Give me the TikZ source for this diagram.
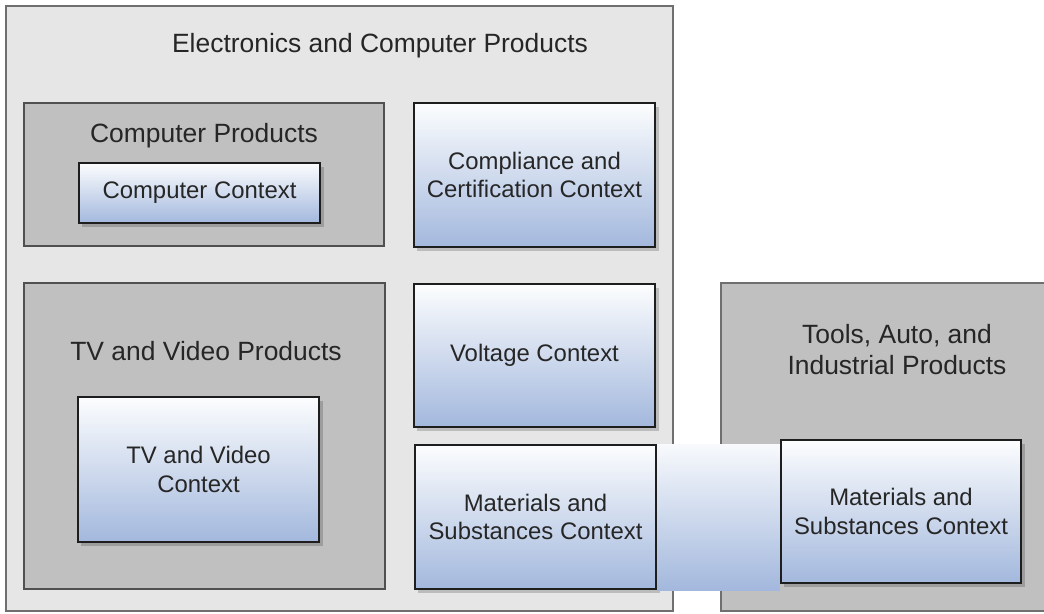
\documentclass[tikz,border=0pt]{standalone}
\usepackage{fontspec}
\setmainfont{Liberation Sans}
\usetikzlibrary{shadows}
\definecolor{panelgray}{HTML}{E6E6E6}
\definecolor{frameedge}{HTML}{6F6F6F}
\definecolor{groupgray}{HTML}{C0C0C0}
\definecolor{groupedge}{HTML}{505050}
\definecolor{ctxedge}{HTML}{1E1E1E}
\definecolor{ctxtop}{HTML}{FCFDFE}
\definecolor{ctxbottom}{HTML}{A3B8DD}
\definecolor{labelgray}{HTML}{262626}
\newcommand\grptitlefont{\fontsize{18.8}{22}\selectfont}
\newcommand\ctxlabelfont{\fontsize{17}{20}\selectfont}
\begin{document}
\begin{tikzpicture}[x=0.025cm,y=-0.025cm,
    outerbox/.style={draw=frameedge,line width=1.3pt,fill=panelgray},
    groupbox/.style={draw=groupedge,line width=1.4pt,fill=groupgray},
    ctxbox/.style={draw=ctxedge,line width=1.4pt,top color=ctxtop,bottom color=ctxbottom,
      align=center,font=\ctxlabelfont,text=labelgray,
      drop shadow={shadow xshift=2.5pt,shadow yshift=-2.5pt,opacity=0.18,fill=black}},
    grouptitle/.style={font=\grptitlefont,text=labelgray,align=center},
    band/.style={top color=ctxtop!95!ctxbottom,bottom color=ctxbottom}]
  \useasboundingbox (0,0) rectangle (1044,613);
  \clip (0,0) rectangle (1044,613);
  \fill[white] (0,0) rectangle (1044,613);
  \node[outerbox,minimum width=16.675cm,minimum height=15.125cm] (elec) at (339.5,308.5) {};
  \node[outerbox,fill=groupgray,minimum width=8.825cm,minimum height=8.2cm] (tools) at (897.5,447) {};
  \node[groupbox,minimum width=9cm,minimum height=3.575cm] (comp) at (204,174.5) {};
  \node[groupbox,minimum width=9.025cm,minimum height=7.65cm] (tv) at (204.5,436) {};
  \node[grouptitle,anchor=base] (electitle) at (380,52) {Electronics and Computer Products};
  \node[grouptitle,anchor=base] (comptitle) at (204,142) {Computer Products};
  \node[grouptitle,anchor=base] (tvtitle) at (206,360) {TV and Video Products};
  \node[grouptitle] (toolstitle) at (897,350) {Tools, Auto, and\\Industrial Products};
  \node[ctxbox,minimum width=6.025cm,minimum height=1.5cm] (compctx) at (199.5,193) {Computer Context};
  \node[ctxbox,minimum width=6.025cm,minimum height=3.6cm] (certctx) at (534.5,175) {Compliance and\\Certification Context};
  \node[ctxbox,minimum width=6.025cm,minimum height=3.625cm] (tvctx) at (198.5,469.5) {TV and Video\\Context};
  \node[ctxbox,minimum width=6.025cm,minimum height=3.575cm] (voltctx) at (534.5,355.5) {Voltage Context};
  \node[ctxbox,minimum width=6.025cm,minimum height=3.6cm] (matleft) at (535.5,517) {Materials and\\Substances Context};
  \node[ctxbox,minimum width=6cm,minimum height=3.575cm] (matright) at (901,511.5) {Materials and\\Substances Context};
  \fill[band] (matleft.north east) rectangle (matright.west |- matleft.south);
\end{tikzpicture}
\end{document}
